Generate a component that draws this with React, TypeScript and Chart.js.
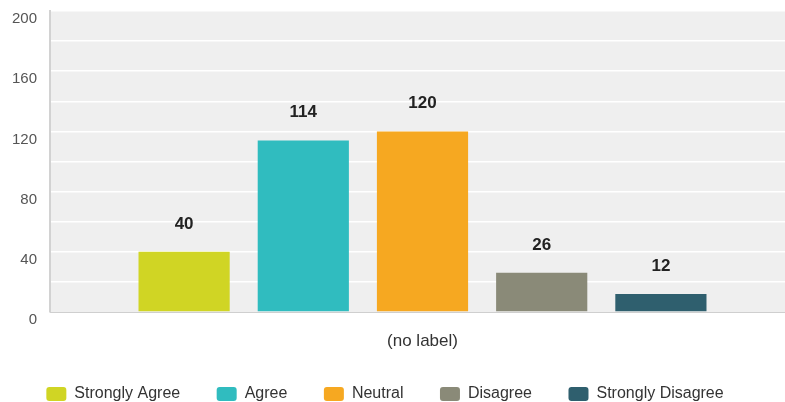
import React, { useEffect, useRef } from "react";
import { Chart, registerables } from "chart.js";

Chart.register(...registerables);

const categories = ["(no label)"];
const seriesNames = ["Strongly Agree", "Agree", "Neutral", "Disagree", "Strongly Disagree"];
const stronglyAgree = [40];
const agree = [114];
const neutral = [120];
const disagree = [26];
const stronglyDisagree = [12];
const seriesColors = ["#d0d524", "#30bcbf", "#f6a821", "#8a8a78", "#2f5f6e"];
const labelledTicks = [0, 40, 80, 120, 160, 200];

const FONT = "'Liberation Sans', Arial, sans-serif";

const plotBackground = {
  id: "plotBackground",
  beforeDraw(chart: any) {
    const { ctx, chartArea } = chart;
    ctx.save();
    ctx.fillStyle = "#efefef";
    ctx.fillRect(chartArea.left, chartArea.top, chartArea.right - chartArea.left, chartArea.bottom - chartArea.top);
    ctx.restore();
  },
};

const valueLabels = {
  id: "valueLabels",
  afterDatasetsDraw(chart: any) {
    const { ctx } = chart;
    ctx.save();
    ctx.font = `bold 17px ${FONT}`;
    ctx.fillStyle = "#222";
    ctx.textAlign = "center";
    ctx.textBaseline = "alphabetic";
    chart.data.datasets.forEach((ds: any, i: number) => {
      const meta = chart.getDatasetMeta(i);
      meta.data.forEach((bar: any, j: number) => {
        ctx.fillText(String(ds.data[j]), bar.x, bar.y - 23);
      });
    });
    ctx.restore();
  },
};

export default function App() {
  const ref = useRef<HTMLCanvasElement>(null);

  useEffect(() => {
    if (!ref.current) return;
    const series = [stronglyAgree, agree, neutral, disagree, stronglyDisagree];
    const chart = new Chart(ref.current, {
      type: "bar",
      data: {
        labels: categories,
        datasets: series.map((d, i) => ({
          label: seriesNames[i],
          data: d,
          backgroundColor: seriesColors[i],
          borderColor: seriesColors[i],
          borderWidth: 0,
          categoryPercentage: 0.8,
          barPercentage: 0.765,
        })),
      },
      options: {
        responsive: false,
        animation: false,
        layout: { padding: { top: 11, left: 0, right: 0, bottom: 0 } },
        plugins: {
          tooltip: { enabled: false },
          legend: {
            position: "bottom",
            labels: {
              boxWidth: 20,
              boxHeight: 14,
              padding: 36.5,
              color: "#333",
              font: { family: FONT, size: 16 },
              useBorderRadius: true,
              borderRadius: 3,
            },
          },
        },
        scales: {
          x: {
            clip: false,
            grid: { display: false },
            border: { display: true, color: "#cfcfcf", width: 1 },
            ticks: { color: "#333", font: { family: FONT, size: 17 }, padding: 11 },
            afterFit(scale: any) {
              scale.height = 37.5;
            },
          },
          y: {
            min: 0,
            max: 200,
            clip: false,
            grid: {
              drawTicks: false,
              color: (c: any) => (c.tick && (c.tick.value === 0) ? "rgba(0,0,0,0)" : "#ffffff"),
              lineWidth: 1.5,
            },
            border: { display: true, color: "#d2d2d2", width: 2 },
            ticks: {
              stepSize: 20,
              padding: 13,
              labelOffset: 8,
              color: "#555",
              font: { family: FONT, size: 15 },
              callback: (v: any) => (labelledTicks.includes(Number(v)) ? String(v) : ""),
            },
            afterFit(scale: any) {
              scale.width = 75;
              scale.paddingTop = 0;
              scale.paddingBottom = 0;
            },
          },
        },
      },
      plugins: [plotBackground, valueLabels],
    });
    return () => chart.destroy();
  }, []);

  return (
    <div style={{ position: "fixed", left: 0, top: 0, width: 785, height: 402, overflow: "hidden", background: "#fff" }}>
      <div style={{ position: "absolute", left: -25, top: 0, width: 820, height: 412 }}>
        <canvas ref={ref} width={820} height={412} style={{ display: "block" }} />
      </div>
    </div>
  );
}
